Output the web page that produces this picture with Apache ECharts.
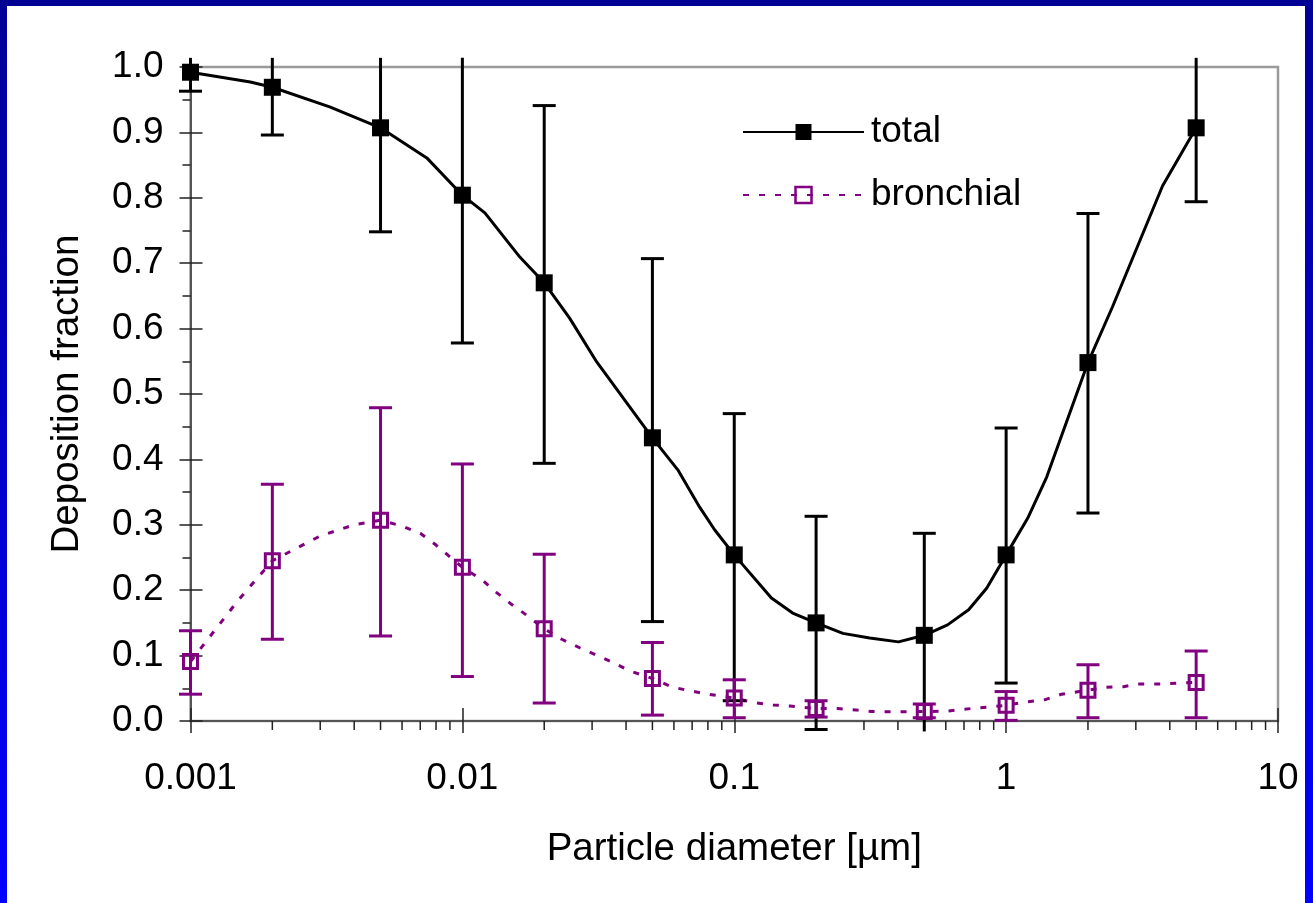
<!DOCTYPE html>
<html><head><meta charset="utf-8">
<script src="https://cdn.jsdelivr.net/npm/echarts@6/dist/echarts.min.js"></script>
<style>
html,body{margin:0;padding:0;width:1313px;height:903px;overflow:hidden;background:linear-gradient(to bottom,#000094 0%,#0000ff 100%);}
#paper{position:absolute;left:7px;top:6px;width:1298px;height:897px;background:#fff;}
#chart{position:absolute;left:0;top:0;width:1313px;height:903px;}
</style></head><body><div id="paper"></div><div id="chart"></div>
<script>
const FONT = "'Liberation Sans', Arial, Helvetica, sans-serif";

// tick labels
const xTickLabels = ['0.001', '0.01', '0.1', '1', '10'];
const yTickLabels = ['0.0','0.1','0.2','0.3','0.4','0.5','0.6','0.7','0.8','0.9','1.0'];
const xMinorTicks = [0.002,0.003,0.004,0.005,0.006,0.007,0.008,0.009,
  0.02,0.03,0.04,0.05,0.06,0.07,0.08,0.09,
  0.2,0.3,0.4,0.5,0.6,0.7,0.8,0.9,
  2,3,4,5,6,7,8,9];

// measured points
const particleDiameter = [0.001,0.002,0.005,0.01,0.02,0.05,0.1,0.2,0.5,1,2,5];
const totalMean  = [0.992,0.969,0.907,0.804,0.670,0.433,0.254,0.150,0.131,0.254,0.548,0.907];
const totalLow   = [0.963,0.896,0.748,0.578,0.394,0.152,0.031,-0.013,-0.025,0.058,0.318,0.794];
const totalHigh  = [1.021,1.042,1.066,1.030,0.941,0.707,0.470,0.313,0.287,0.448,0.776,1.020];
const bronchialMean = [0.091,0.245,0.307,0.235,0.141,0.065,0.035,0.019,0.0145,0.024,0.047,0.059];
const bronchialLow  = [0.041,0.125,0.130,0.068,0.0275,0.009,0.005,0.006,0.005,0.001,0.005,0.005];
const bronchialHigh = [0.138,0.362,0.479,0.393,0.255,0.120,0.063,0.031,0.026,0.045,0.086,0.107];

// model curves
const totalCurveX = [0.001,0.00166,0.002,0.00325,0.005,0.0074,0.01,0.0121,0.0163,0.02,0.0248,0.0312,0.05,0.062,0.0746,0.0848,0.1,0.137,0.164,0.2,0.251,0.315,0.402,0.5,0.609,0.728,0.848,1,1.2,1.41,2,2.46,3.76,5];
const totalCurveY = [0.992,0.977,0.969,0.939,0.907,0.861,0.804,0.777,0.709,0.670,0.616,0.549,0.433,0.384,0.327,0.292,0.254,0.188,0.165,0.150,0.134,0.127,0.121,0.131,0.147,0.170,0.203,0.254,0.310,0.373,0.548,0.633,0.818,0.907];
const bronchialCurveX = [0.001,0.0015,0.002,0.003,0.004,0.005,0.006,0.007,0.008,0.009,0.01,0.0118,0.0134,0.0152,0.0172,0.02,0.0232,0.027,0.031,0.036,0.041,0.05,0.059,0.069,0.08,0.1,0.119,0.139,0.16,0.2,0.24,0.28,0.32,0.37,0.5,0.6,0.7,1,1.2,1.4,1.6,2,2.3,2.7,3.1,3.7,5];
const bronchialCurveY = [0.091,0.185,0.245,0.283,0.300,0.307,0.298,0.287,0.269,0.251,0.235,0.216,0.196,0.178,0.162,0.141,0.125,0.112,0.101,0.089,0.077,0.065,0.052,0.046,0.041,0.035,0.028,0.0245,0.023,0.019,0.019,0.017,0.0145,0.014,0.0145,0.015,0.018,0.024,0.0295,0.033,0.041,0.047,0.0515,0.0525,0.0566,0.0566,0.059];

const BLACK = '#000000';
const PURPLE = '#800080';
const CLIP_MIN = -0.016, CLIP_MAX = 1.014;

function pairs(xs, ys) { return xs.map((x, i) => [x, ys[i]]); }

function errorBars(name, low, high, color) {
  return {
    type: 'custom', name: name, clip: false, z: 5, silent: true,
    data: particleDiameter.map((x, i) => [x, low[i], high[i]]),
    encode: { x: 0, y: [1, 2] },
    renderItem: function (params, api) {
      const x = api.value(0), lo = api.value(1), hi = api.value(2);
      const loC = Math.max(lo, CLIP_MIN), hiC = Math.min(hi, CLIP_MAX);
      const pt = api.coord([x, hiC]), pb = api.coord([x, loC]);
      const hw = 11.5;
      const st = { stroke: color, lineWidth: 3 };
      const ch = [{ type: 'line', shape: { x1: pt[0], y1: pt[1], x2: pb[0], y2: pb[1] }, style: st }];
      if (hi <= CLIP_MAX) ch.push({ type: 'line', shape: { x1: pt[0] - hw, y1: pt[1], x2: pt[0] + hw, y2: pt[1] }, style: st });
      if (lo >= CLIP_MIN) ch.push({ type: 'line', shape: { x1: pb[0] - hw, y1: pb[1], x2: pb[0] + hw, y2: pb[1] }, style: st });
      return { type: 'group', children: ch };
    }
  };
}

const chart = echarts.init(document.getElementById('chart'), null, { renderer: 'canvas' });
const axisTextStyle = { fontFamily: FONT, fontSize: 37, color: '#000' };
const nameTextStyle = { fontFamily: FONT, fontSize: 38.5, color: '#000' };

chart.setOption({
  animation: false,
  backgroundColor: 'transparent',
  textStyle: { fontFamily: FONT },
  grid: { left: 190.5, top: 67, width: 1087.5, height: 654, show: true, borderColor: '#9a9a9a', borderWidth: 2.5, backgroundColor: 'transparent' },
  legend: {
    left: 742, top: 112, padding: 0, orient: 'vertical', itemWidth: 121, itemHeight: 20, itemGap: 23,
    textStyle: { fontFamily: FONT, fontSize: 37, color: '#000', lineHeight: 40, padding: [0, 0, 0, 2] },
    selectedMode: false,
    data: [
      { name: 'total', itemStyle: { color: BLACK, borderWidth: 0 } },
      { name: 'bronchial', itemStyle: { color: 'rgba(0,0,0,0)', borderColor: PURPLE, borderWidth: 2.5 } }
    ]
  },
  xAxis: [
    {
      type: 'log', logBase: 10, min: 0.001, max: 10, position: 'bottom',
      axisLine: { show: true, lineStyle: { color: '#555', width: 2 } },
      axisTick: { show: true, inside: false, length: 12, lineStyle: { color: '#222', width: 1.5 } },
      axisLabel: Object.assign({ margin: 39, formatter: v => xTickLabels[Math.round(Math.log10(v)) + 3] }, axisTextStyle),
      splitLine: { show: false },
      name: 'Particle diameter [µm]', nameLocation: 'middle', nameGap: 109,
      nameTextStyle: nameTextStyle
    },
    {
      type: 'log', logBase: 10, min: 0.001, max: 10, position: 'bottom',
      axisLine: { show: false },
      axisTick: { show: true, inside: true, length: 13, lineStyle: { color: '#222', width: 1.5 } },
      axisLabel: { show: false }, splitLine: { show: false }
    }
  ],
  yAxis: [
    {
      type: 'value', min: 0, max: 1, interval: 0.1, position: 'left',
      axisLine: { show: true, lineStyle: { color: '#555', width: 2 } },
      axisTick: { show: true, inside: false, length: 11, lineStyle: { color: '#222', width: 1.5 } },
      minorTick: { show: true, splitNumber: 2, length: 8, lineStyle: { color: '#222', width: 1.5 } },
      axisLabel: Object.assign({ margin: 27, formatter: v => yTickLabels[Math.round(v * 10)] }, axisTextStyle),
      splitLine: { show: false },
      name: 'Deposition fraction', nameLocation: 'middle', nameGap: 104, nameRotate: 90,
      nameTextStyle: nameTextStyle
    },
    {
      type: 'value', min: 0, max: 1, interval: 0.1, position: 'left',
      axisLine: { show: false },
      axisTick: { show: true, inside: true, length: 12, lineStyle: { color: '#222', width: 1.5 } },
      axisLabel: { show: false }, splitLine: { show: false }
    }
  ],
  series: [
    {
      type: 'line', name: 'total', data: pairs(totalCurveX, totalCurveY),
      symbol: 'rect', showSymbol: false, symbolSize: 16, smooth: false, z: 3, silent: true,
      lineStyle: { color: BLACK, width: 3 }, itemStyle: { color: BLACK }
    },
    {
      type: 'line', name: 'bronchial', data: pairs(bronchialCurveX, bronchialCurveY),
      symbol: 'rect', showSymbol: false, symbolSize: 16, smooth: false, z: 3, silent: true,
      lineStyle: { color: PURPLE, width: 3, type: [6, 10] },
      itemStyle: { color: 'rgba(0,0,0,0)', borderColor: PURPLE, borderWidth: 2.5 }
    },
    errorBars('total error', totalLow, totalHigh, BLACK),
    errorBars('bronchial error', bronchialLow, bronchialHigh, PURPLE),
    {
      type: 'scatter', name: 'total points', data: pairs(particleDiameter, totalMean),
      symbol: 'rect', symbolSize: 17, z: 6, silent: true, itemStyle: { color: BLACK, opacity: 1 }
    },
    {
      type: 'scatter', name: 'bronchial points', data: pairs(particleDiameter, bronchialMean),
      symbol: 'rect', symbolSize: 14, z: 6, silent: true,
      itemStyle: { color: 'rgba(0,0,0,0)', borderColor: PURPLE, borderWidth: 3, opacity: 1 }
    },
    {
      type: 'custom', name: 'minor ticks', clip: false, silent: true, z: 2,
      data: xMinorTicks.map(x => [x, 0]),
      encode: { x: 0, y: 1 },
      renderItem: function (params, api) {
        const p = api.coord([api.value(0), 0]);
        return { type: 'line', shape: { x1: p[0], y1: p[1], x2: p[0], y2: p[1] + 9 }, style: { stroke: '#222', lineWidth: 1.5 } };
      }
    }
  ]
});
</script></body></html>
